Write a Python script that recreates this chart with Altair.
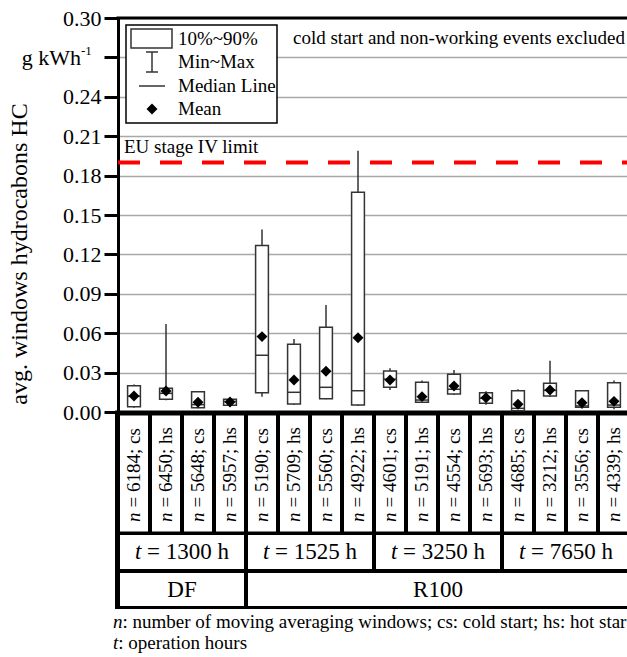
import altair as alt
import pandas as pd

# ---------------- data ----------------
n_windows = [6184, 6450, 5648, 5957, 5190, 5709, 5560, 4922,
             4601, 5191, 4554, 5693, 4685, 3212, 3556, 4339]
start_kind = ["cs", "hs", "cs", "hs", "cs", "hs", "cs", "hs",
              "cs", "hs", "cs", "hs", "cs", "hs", "cs", "hs"]
p10 = [0.0040, 0.0097, 0.0033, 0.0051, 0.0147, 0.0061, 0.0101, 0.0053,
       0.0188, 0.0074, 0.0137, 0.0066, 0.0010, 0.0122, 0.0036, 0.0036]
p90 = [0.0200, 0.0180, 0.0155, 0.0097, 0.1267, 0.0515, 0.0645, 0.1673,
       0.0312, 0.0226, 0.0287, 0.0147, 0.0162, 0.0218, 0.0162, 0.0223]
v_min = [0.0033, 0.0090, 0.0028, 0.0040, 0.0117, 0.0053, 0.0097, 0.0046,
         0.0168, 0.0068, 0.0129, 0.0056, 0.0005, 0.0115, 0.0025, 0.0020]
v_max = [0.0210, 0.0670, 0.0155, 0.0109, 0.1390, 0.0556, 0.0815, 0.1990,
         0.0333, 0.0239, 0.0320, 0.0158, 0.0173, 0.0390, 0.0168, 0.0239]
median = [0.0120, 0.0142, 0.0056, 0.0080, 0.0432, 0.0150, 0.0188, 0.0162,
          0.0250, 0.0091, 0.0173, 0.0105, 0.0028, 0.0165, 0.0046, 0.0053]
mean = [0.0122, 0.0160, 0.0074, 0.0076, 0.0574, 0.0244, 0.0310, 0.0566,
        0.0244, 0.0117, 0.0198, 0.0109, 0.0059, 0.0168, 0.0071, 0.0081]
hours = [1300, 1525, 3250, 7650]
hours_span = [4, 4, 4, 4]
fuels = ["DF", "R100"]
fuel_span = [4, 12]
eu_limit = [0.19]
y_ticks = [0.0, 0.03, 0.06, 0.09, 0.12, 0.15, 0.18, 0.21, 0.24, 0.27, 0.30]
y_title = "avg. windows hydrocabons HC"
note_top = "cold start and non-working events excluded"
legend_labels = ["10%~90%", "Min~Max", "Median Line", "Mean"]

FONT = "Liberation Serif"
W, H = 509, 394

pos = list(range(1, len(n_windows) + 1))
df = pd.DataFrame({
    "pos": pos, "n": n_windows, "kind": start_kind,
    "p10": p10, "p90": p90, "vmin": v_min, "vmax": v_max,
    "median": median, "mean": mean,
})
df["rest"] = ["= %d; %s" % (a, b) for a, b in zip(n_windows, start_kind)]


def spans(sizes):
    lo, out = 0.5, []
    for s in sizes:
        out.append((lo, lo + s))
        lo += s
    return out


t_df = pd.DataFrame({
    "lo": [a for a, b in spans(hours_span)],
    "hi": [b for a, b in spans(hours_span)],
    "rest": ["= %d h" % h for h in hours],
})
t_df["mid"] = (t_df["lo"] + t_df["hi"]) / 2
f_df = pd.DataFrame({
    "lo": [a for a, b in spans(fuel_span)],
    "hi": [b for a, b in spans(fuel_span)],
    "label": fuels,
})
f_df["mid"] = (f_df["lo"] + f_df["hi"]) / 2

XS = alt.Scale(domain=[0.5, 16.5], range=[0, 512])
YS = alt.Scale(domain=[0, 0.30], nice=False, zero=False)
YAXIS = alt.Axis(
    values=y_ticks,
    labelExpr="abs(datum.value-0.27)<0.001 ? '' : format(datum.value, '.2f')",
    title=None, grid=True, gridColor="#a8a8a8", gridWidth=1.5,
    domainColor="black", domainWidth=3, tickColor="black", tickWidth=3,
    tickSize=14, labelFont=FONT, labelFontSize=22, labelColor="black",
    labelPadding=3, labelOverlap=False,
)


def X(f):
    return alt.X(f, type="quantitative", scale=XS, axis=None)


def Y(f):
    return alt.Y(f, type="quantitative", scale=YS, axis=YAXIS)


one = pd.DataFrame({"k": [0]})


def txt(text, x, y, size=19, align="left", style="normal", angle=0, baseline="middle"):
    return alt.Chart(one).mark_text(
        text=text, font=FONT, fontSize=size, align=align, baseline=baseline,
        fontStyle=style, color="black", angle=angle,
    ).encode(x=alt.value(x), y=alt.value(y))


base = alt.Chart(df).transform_calculate(xl="datum.pos - 0.2", xr="datum.pos + 0.2")

boxes = base.mark_rect(fill="white", stroke="#333333", strokeWidth=1.5).encode(
    x=X("xl"), x2="xr:Q", y=Y("p10"), y2="p90:Q")
wh_top = base.mark_rule(color="#333333", strokeWidth=1.5).encode(
    x=X("pos"), y=Y("p90"), y2="vmax:Q")
wh_bot = base.mark_rule(color="#333333", strokeWidth=1.5).encode(
    x=X("pos"), y=Y("vmin"), y2="p10:Q")
med = base.mark_rule(color="#333333", strokeWidth=1.5).encode(
    x=X("xl"), x2="xr:Q", y=Y("median"))
means = base.mark_point(shape="diamond", filled=True, color="black", size=120, opacity=1).encode(
    x=X("pos"), y=Y("mean"))

limit = alt.Chart(pd.DataFrame({"limit": eu_limit})).mark_rule(
    color="#ff0000", strokeWidth=4, strokeDash=[22, 20]).encode(
    y=Y("limit"), x=alt.value(0), x2=alt.value(W))

top_border = alt.Chart(one).mark_rule(color="black", strokeWidth=3).encode(
    x=alt.value(-1.5), x2=alt.value(W), y=alt.value(0))

# ----- legend box -----
leg_box = alt.Chart(one).mark_rect(fill="white", stroke="black", strokeWidth=1.5).encode(
    x=alt.value(8), x2=alt.value(159), y=alt.value(7), y2=alt.value(105))
leg_rect = alt.Chart(one).mark_rect(fill="white", stroke="#333333", strokeWidth=1.5).encode(
    x=alt.value(13), x2=alt.value(54), y=alt.value(11), y2=alt.value(30))
leg_v = alt.Chart(one).mark_rule(color="#333333", strokeWidth=1.5).encode(
    x=alt.value(34), y=alt.value(34), y2=alt.value(54))
leg_c1 = alt.Chart(one).mark_rule(color="#333333", strokeWidth=1.5).encode(
    x=alt.value(28), x2=alt.value(40), y=alt.value(34))
leg_c2 = alt.Chart(one).mark_rule(color="#333333", strokeWidth=1.5).encode(
    x=alt.value(28), x2=alt.value(40), y=alt.value(54))
leg_med = alt.Chart(one).mark_rule(color="#333333", strokeWidth=1.5).encode(
    x=alt.value(21), x2=alt.value(47), y=alt.value(68))
leg_mean = alt.Chart(one).mark_point(shape="diamond", filled=True, color="black", size=120, opacity=1).encode(
    x=alt.value(34), y=alt.value(91))
leg_txt = [txt(legend_labels[i], 60, yy) for i, yy in enumerate([21, 44, 68, 91])]

# ----- table below the axis -----
table_bg = alt.Chart(one).mark_rect(color="black").encode(
    x=alt.value(-3), x2=alt.value(530), y=alt.value(392.5), y2=alt.value(591))
n_cells = alt.Chart(df).transform_calculate(lo="datum.pos - 0.5", hi="datum.pos + 0.5").mark_rect(
    color="white", xOffset=2, x2Offset=-2).encode(
    x=X("lo"), x2="hi:Q", y=alt.value(397.5), y2=alt.value(513.5))
t_cells = alt.Chart(t_df).mark_rect(color="white", xOffset=2, x2Offset=-2).encode(
    x=X("lo"), x2="hi:Q", y=alt.value(517), y2=alt.value(551))
f_cells = alt.Chart(f_df).mark_rect(color="white", xOffset=2, x2Offset=-2).encode(
    x=X("lo"), x2="hi:Q", y=alt.value(555), y2=alt.value(588))

n_it = alt.Chart(df).mark_text(text="n", font=FONT, fontSize=19, fontStyle="italic", angle=270,
                               align="left", baseline="middle", color="black").encode(
    x=X("pos"), y=alt.value(504))
n_rest = alt.Chart(df).mark_text(font=FONT, fontSize=19, angle=270, align="left",
                                 baseline="middle", color="black").encode(
    x=X("pos"), y=alt.value(489.5), text="rest:N")
t_it = alt.Chart(t_df).mark_text(text="t", font=FONT, fontSize=23, fontStyle="italic",
                                 align="left", baseline="middle", color="black", dx=-47).encode(
    x=X("mid"), y=alt.value(534))
t_rest = alt.Chart(t_df).mark_text(font=FONT, fontSize=23, align="left", baseline="middle",
                                   color="black", dx=-34.9).encode(
    x=X("mid"), y=alt.value(534), text="rest:N")
f_txt = alt.Chart(f_df).mark_text(font=FONT, fontSize=23, align="center", baseline="middle",
                                  color="black").encode(
    x=X("mid"), y=alt.value(572), text="label:N")

# ----- other texts -----
texts = [
    txt(y_title, -98, 236, size=24, align="center", angle=270),
    txt("g kWh", -37, 40, size=22, align="right"),
    txt("-1", -37, 33, size=13, align="left"),
    txt(note_top, 175, 20),
    txt("EU stage IV limit", 6, 129),
    txt("n", -5, 604, style="italic"),
    txt(": number of moving averaging windows; cs: cold start; hs: hot start", 4.5, 604),
    txt("t", -5, 625, style="italic"),
    txt(": operation hours", 0.3, 625),
]

chart = alt.layer(
    table_bg, n_cells, t_cells, f_cells, n_it, n_rest, t_it, t_rest, f_txt,
    boxes, wh_top, wh_bot, med, means, limit, top_border,
    leg_box, leg_rect, leg_v, leg_c1, leg_c2, leg_med, leg_mean, *leg_txt, *texts,
).properties(
    width=W, height=H,
    autosize=alt.AutoSizeParams(type="none"),
    padding={"left": 118, "top": 18, "right": 0, "bottom": 245},
).configure_view(stroke=None)

chart.save("out.html", embed_options={"renderer": "svg", "actions": False})
